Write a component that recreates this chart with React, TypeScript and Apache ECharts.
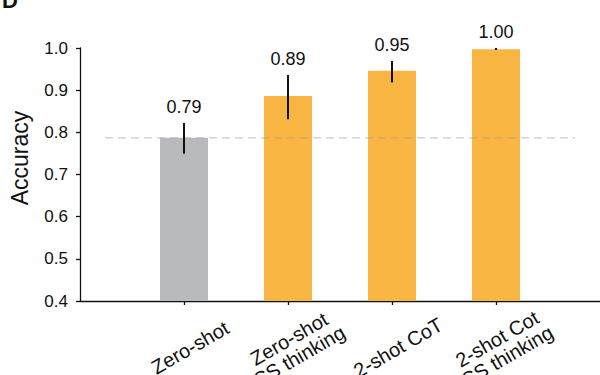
import React, { useEffect, useRef } from "react";
import * as echarts from "echarts";

const categories = ["Zero-shot", "Zero-shot\nCS thinking", "2-shot CoT", "2-shot Cot\nCS thinking"];
const positions = [1, 2, 3, 4];
const accuracy = [0.787, 0.886, 0.946, 0.997];
const valueLabels = ["0.79", "0.89", "0.95", "1.00"];
const errLow = [0.749, 0.831, 0.918, 0.995];
const errHigh = [0.822, 0.936, 0.969, 1.0];
const barColors = ["#b9babe", "#f9b542", "#f9b542", "#f9b542"];
const baseline = 0.787;
const baselineSpan = [0.24, 4.76];
const yTicks = [0.4, 0.5, 0.6, 0.7, 0.8, 0.9, 1.0];

const FONT = "Liberation Sans, Arial, sans-serif";

export default function App() {
  const ref = useRef<HTMLDivElement>(null);
  useEffect(() => {
    if (!ref.current) return;
    const chart = echarts.init(ref.current, null, { renderer: "svg" });
    const option: any = {
      animation: false,
      backgroundColor: "#ffffff",
      textStyle: { fontFamily: FONT },
      grid: {
        left: 80,
        right: 0,
        top: 48,
        bottom: 74,
        containLabel: false,
        outerBoundsMode: "none",
      },
      xAxis: {
        type: "value",
        min: 0,
        max: 5,
        interval: 1,
        splitLine: { show: false },
        axisLine: { show: true, lineStyle: { color: "#111", width: 1.3 } },
        axisTick: { show: true, length: 4, customValues: positions, lineStyle: { color: "#111", width: 1.3 } },
        axisLabel: {
          customValues: positions,
          rotate: 30,
          margin: 50,
          align: "center",
          verticalAlign: "middle",
          padding: [0, 0, 0, 14],
          fontSize: 20,
          lineHeight: 20,
          color: "#111",
          fontFamily: FONT,
          formatter: (v: number) => {
            const i = positions.indexOf(Math.round(v));
            return i >= 0 ? categories[i] : "";
          },
        },
      },
      yAxis: {
        type: "value",
        min: 0.4,
        max: 1.0,
        interval: 0.1,
        splitLine: { show: false },
        axisLine: { show: true, lineStyle: { color: "#111", width: 1.3 } },
        axisTick: { show: true, length: 4, customValues: yTicks, lineStyle: { color: "#111", width: 1.3 } },
        axisLabel: {
          customValues: yTicks,
          margin: 12,
          fontSize: 17,
          color: "#111",
          fontFamily: FONT,
          formatter: (v: number) => v.toFixed(1),
        },
      },
      graphic: [
        {
          type: "text",
          x: 20,
          y: 158,
          rotation: Math.PI / 2,
          style: {
            text: "Accuracy",
            fontSize: 23,
            fontFamily: FONT,
            fill: "#111",
            align: "center",
            verticalAlign: "middle",
          },
        },
        {
          type: "text",
          x: 2,
          y: 0,
          style: {
            text: "D",
            fontSize: 22,
            fontWeight: "bold",
            fontFamily: FONT,
            fill: "#111",
            align: "left",
            verticalAlign: "middle",
          },
        },
      ],
      series: [
        {
          type: "bar",
          barWidth: 48,
          data: positions.map((p, i) => ({
            value: [p, accuracy[i]],
            itemStyle: { color: barColors[i] },
          })),
          z: 2,
        },
        {
          type: "line",
          data: [
            [baselineSpan[0], baseline],
            [baselineSpan[1], baseline],
          ],
          symbol: "none",
          lineStyle: { color: "rgba(160,160,160,0.55)", width: 1.3, type: [8, 5] },
          z: 3,
        },
        {
          type: "custom",
          z: 4,
          data: positions.map((p, i) => [p, errLow[i], errHigh[i], i]),
          renderItem: (params: any, api: any) => {
            const x = api.value(0);
            const lo = api.coord([x, api.value(1)]);
            const hi = api.coord([x, api.value(2)]);
            const idx = api.value(3);
            return {
              type: "group",
              children: [
                {
                  type: "line",
                  shape: { x1: lo[0], y1: lo[1], x2: hi[0], y2: hi[1] },
                  style: { stroke: "#111", lineWidth: 2 },
                },
                {
                  type: "text",
                  x: hi[0],
                  y: hi[1] - 16,
                  style: {
                    text: valueLabels[idx],
                    fontSize: 18,
                    fontFamily: FONT,
                    fill: "#111",
                    align: "center",
                    verticalAlign: "middle",
                  },
                },
              ],
            };
          },
        },
      ],
    };
    chart.setOption(option);
    return () => chart.dispose();
  }, []);
  return (
    <div
      ref={ref}
      style={{ position: "absolute", left: 0, top: 0, width: 600, height: 375 }}
    />
  );
}
